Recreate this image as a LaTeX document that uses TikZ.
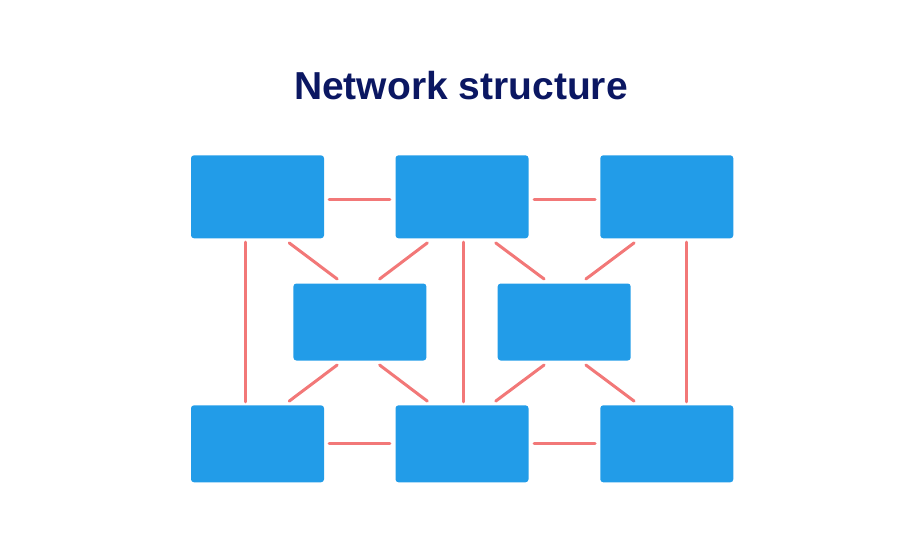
\documentclass[tikz,border=0pt]{standalone}
\usepackage{fontspec}
\setmainfont{Liberation Sans}
\definecolor{boxblue}{HTML}{229CE8}
\definecolor{linkred}{HTML}{F27878}
\definecolor{titlenavy}{HTML}{0B1762}
\tikzset{
  box/.style={fill=boxblue, rounded corners=3pt, inner sep=0pt, minimum width=133pt, minimum height=77pt},
  tallbox/.style={box, minimum height=83pt},
  link/.style={draw=linkred, line width=3pt, line cap=round}
}
\begin{document}
\begin{tikzpicture}[x=1pt, y=-1pt]
  \useasboundingbox (0, 0) rectangle (924, 549);
  \node[anchor=base, text=titlenavy, font=\bfseries\fontsize{39}{47}\selectfont] (title) at (461, 99.3) {Network structure};

  \node[tallbox] (tl) at (257.5, 196.8) {};
  \node[tallbox] (tc) at (462, 196.8) {};
  \node[tallbox] (tr) at (666.8, 196.8) {};
  \node[box] (ml) at (359.9, 322) {};
  \node[box] (mr) at (564.2, 322) {};
  \node[box] (bl) at (257.5, 443.8) {};
  \node[box] (bc) at (462, 443.8) {};
  \node[box] (br) at (666.8, 443.8) {};

  % rows
  \draw[link] ([xshift=5pt, yshift=-3pt]tl.east) -- ([xshift=-5.5pt, yshift=-3pt]tc.west);
  \draw[link] ([xshift=5.5pt, yshift=-3pt]tc.east) -- ([xshift=-5pt, yshift=-3pt]tr.west);
  \draw[link] ([xshift=5pt]bl.east) -- ([xshift=-5.5pt]bc.west);
  \draw[link] ([xshift=5.5pt]bc.east) -- ([xshift=-5pt]br.west);

  % columns
  \draw[link] ([xshift=-12.5pt, yshift=-3.7pt]tl.south) -- ([xshift=-12.5pt, yshift=3.3pt]bl.north);
  \draw[link] ([xshift=1.7pt, yshift=-3.7pt]tc.south) -- ([xshift=1.7pt, yshift=3.3pt]bc.north);
  \draw[link] ([xshift=19.5pt, yshift=-3.7pt]tr.south) -- ([xshift=19.5pt, yshift=3.3pt]br.north);

  % diagonals
  \draw[link] ([xshift=-35pt, yshift=-4.4pt]tl.south east) -- ([xshift=44pt, yshift=4.3pt]ml.north west);
  \draw[link] ([xshift=32pt, yshift=-4.4pt]tc.south west) -- ([xshift=-47pt, yshift=4.3pt]ml.north east);
  \draw[link] ([xshift=-33pt, yshift=-4.4pt]tc.south east) -- ([xshift=46.6pt, yshift=4.3pt]mr.north west);
  \draw[link] ([xshift=34pt, yshift=-4.4pt]tr.south west) -- ([xshift=-45pt, yshift=4.3pt]mr.north east);
  \draw[link] ([xshift=44pt, yshift=-4.3pt]ml.south west) -- ([xshift=-35pt, yshift=4pt]bl.north east);
  \draw[link] ([xshift=-47pt, yshift=-4.3pt]ml.south east) -- ([xshift=32pt, yshift=4pt]bc.north west);
  \draw[link] ([xshift=46.6pt, yshift=-4.3pt]mr.south west) -- ([xshift=-33pt, yshift=4pt]bc.north east);
  \draw[link] ([xshift=-45pt, yshift=-4.3pt]mr.south east) -- ([xshift=34pt, yshift=4pt]br.north west);
\end{tikzpicture}
\end{document}
